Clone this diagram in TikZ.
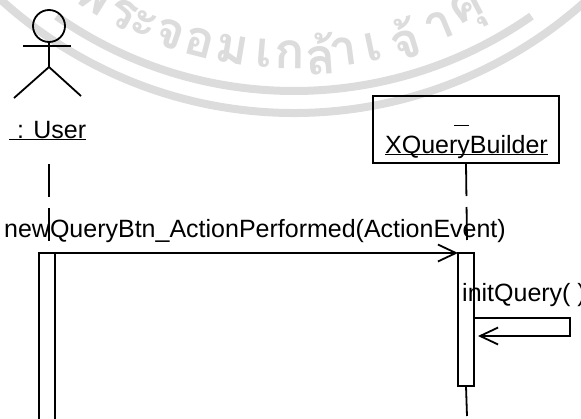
\documentclass[tikz,border=0pt]{standalone}
\usepackage{fontspec}
\setmainfont{Liberation Sans}
\newfontfamily\thaifont[Script=Thai]{Loma}
\usetikzlibrary{arrows.meta}
\definecolor{stampgray}{HTML}{DCDCDC}
\newcommand{\objname}[1]{\underline{\smash{#1}}}
\tikzset{
	uml/.style={line width=1.8pt,black},
	msgtext/.style={font=\fontsize{25}{25}\selectfont,inner sep=0pt,anchor=base west},
	lifeline/.style={uml,dash pattern=on 33pt off 11pt},
	actbar/.style={uml,draw,fill=none,rectangle,inner sep=0pt,outer sep=0pt,minimum width=16pt},
	openhead/.style={-{Straight Barb[length=18pt,width=17pt,line width=1.8pt]}},
	stampband/.style={stampgray,line width=8pt}
}
\begin{document}
\begin{tikzpicture}[x=1pt,y=-1pt]
	\useasboundingbox (0,0) rectangle (581,418);
	\clip (0,0) rectangle (581,418);
	\begin{scope}[shift={(294,-323)}]
		\draw[stampband] (55:414) arc[start angle=55,end angle=125,radius=414];
		\draw[stampband] (40:436) arc[start angle=40,end angle=140,radius=436];
		\foreach \glyph/\ang in {พ/122,ร/116.9,ะ/113.4,จ/109.1,อ/104.4,ม/99.5,เ/94.6,ก/90.6,ล้/86,า/82.4,เ/78,จ้/73,า/67.4,คุ/62.5}
			\node[stampgray,font=\thaifont\bfseries\fontsize{50}{50}\selectfont,rotate=90-\ang] at (\ang:378) {\glyph};
	\end{scope}
	% actor
	\node[circle,uml,draw,minimum size=32pt,inner sep=0pt,outer sep=0pt] (head) at (49,26) {};
	\coordinate (hip) at (49,67);
	\coordinate (armL) at (23,46);
	\coordinate (armR) at (71,46);
	\coordinate (footL) at (14,98);
	\coordinate (footR) at (81,96);
	\draw[uml] (head.south) -- (hip);
	\draw[uml] (armL) -- (armR);
	\draw[uml] (footL) -- (hip) -- (footR);
	\node[msgtext] (user) at (9,138) {\objname{\hspace{8pt}: User}};
	% object box
	\node[uml,draw,rectangle,minimum width=186pt,minimum height=67pt,inner sep=0pt,outer sep=0pt] (builder) at (466,129.5) {};
	\node[msgtext] (buildername) at (385,153) {\objname{XQueryBuilder}};
	\draw[line width=1.8pt] (454,125.5) -- (469,125.5);
	% lifelines
	\coordinate (userlifeS) at (49,164);
	\coordinate (userlifeE) at (49,241);
	\coordinate (buildlifeE) at (467,241);
	\coordinate (buildlifeB) at (467,416);
	\draw[lifeline] (userlifeS) -- (userlifeE);
	\draw[lifeline] (builder.south) -- (buildlifeE);
	% activation bars
	\node[actbar,minimum height=180pt,anchor=north] (userbar) at (47,253) {};
	\node[actbar,minimum height=133pt,anchor=north] (builderbar) at (466,253) {};
	\draw[uml] (builderbar.south) -- (buildlifeB);
	% messages
	\node[msgtext] (newquery) at (4,237) {newQueryBtn\_ActionPerformed(ActionEvent)};
	\draw[uml,openhead] (userbar.north east) -- (builderbar.north west);
	\node[msgtext] (initquery) at (462,301) {initQuery( )};
	\coordinate (selfA) at (570,318);
	\coordinate (selfB) at (570,336);
	\draw[uml,openhead] (builderbar.east |- selfA) -- (selfA) -- (selfB) -- ([xshift=4pt]builderbar.east |- selfB);
\end{tikzpicture}
\end{document}
